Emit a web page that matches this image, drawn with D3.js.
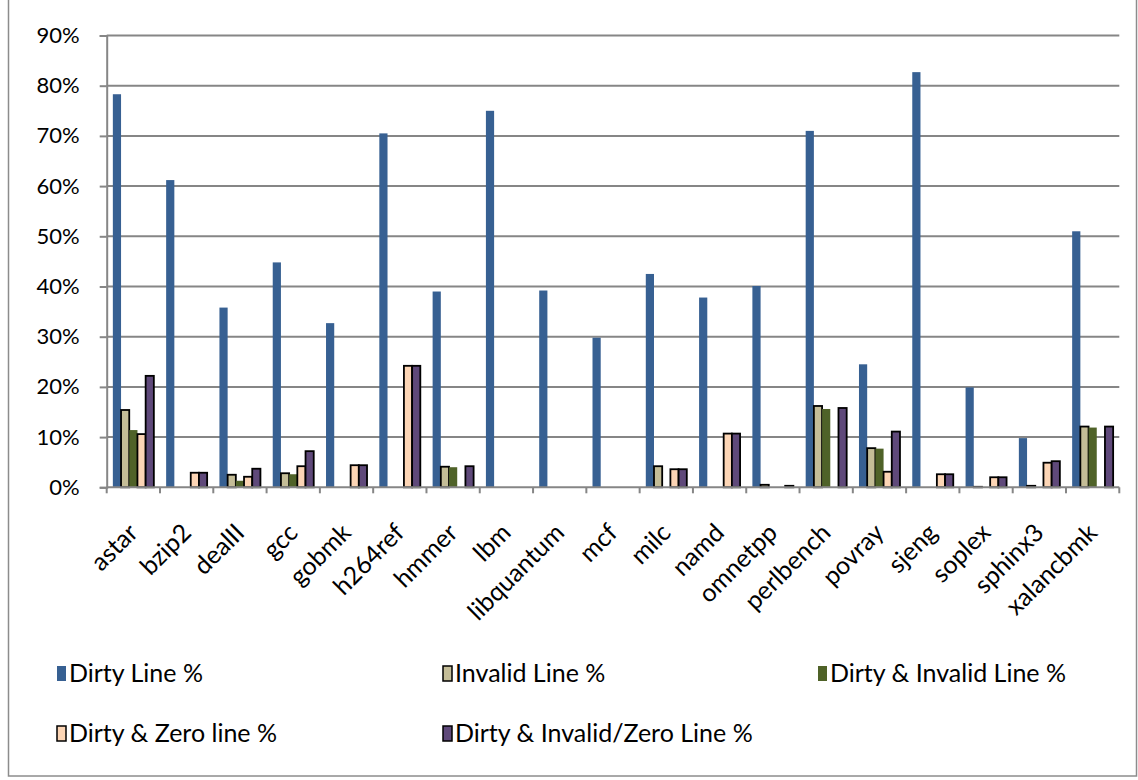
<!DOCTYPE html>
<html>
<head>
<meta charset="utf-8">
<script src="https://cdn.jsdelivr.net/npm/d3@7"></script>
<style>
  html, body { margin: 0; padding: 0; background: #fff; }
  svg { display: block; font-family: Lato, "Open Sans", sans-serif; }
</style>
</head>
<body>
<svg id="chart" width="1138" height="780"></svg>
<script>
// SPEC benchmarks on the x axis
const categories = ["astar", "bzip2", "dealII", "gcc", "gobmk", "h264ref", "hmmer", "lbm",
  "libquantum", "mcf", "milc", "namd", "omnetpp", "perlbench", "povray", "sjeng",
  "soplex", "sphinx3", "xalancbmk"];

// Percentages per benchmark, one array per series
const dirtyLine        = [78.3, 61.2, 35.8, 44.8, 32.7, 70.5, 39.0, 75.0, 39.2, 29.8, 42.5, 37.8, 40.1, 71.0, 24.5, 82.7, 19.9, 9.8, 51.0];
const invalidLine      = [15.4, 0, 2.5, 2.8, 0, 0, 4.1, 0, 0, 0, 4.2, 0, 0.5, 16.2, 7.8, 0, 0.1, 0.3, 12.1];
const dirtyInvalidLine = [11.4, 0, 1.3, 2.6, 0, 0, 4.0, 0, 0, 0, 0, 0, 0, 15.6, 7.7, 0, 0, 0, 11.9];
const dirtyZeroLine    = [10.6, 2.9, 2.1, 4.2, 4.4, 24.2, 0, 0, 0, 0, 3.6, 10.7, 0, 0, 3.1, 2.6, 2.0, 4.9, 0];
const dirtyInvZeroLine = [22.2, 2.9, 3.7, 7.2, 4.4, 24.2, 4.2, 0, 0, 0, 3.6, 10.7, 0.3, 15.8, 11.1, 2.6, 2.0, 5.2, 12.1];

const seriesNames = ["Dirty Line %", "Invalid Line %", "Dirty & Invalid Line %", "Dirty & Zero line %", "Dirty & Invalid/Zero Line %"];
const yTicks = [0, 10, 20, 30, 40, 50, 60, 70, 80, 90];

const series = [
  { name: seriesNames[0], values: dirtyLine,        fill: "#376092", stroke: null },
  { name: seriesNames[1], values: invalidLine,      fill: "#C4BD97", stroke: "#000" },
  { name: seriesNames[2], values: dirtyInvalidLine, fill: "#4F6228", stroke: null },
  { name: seriesNames[3], values: dirtyZeroLine,    fill: "#FCD5B5", stroke: "#000" },
  { name: seriesNames[4], values: dirtyInvZeroLine, fill: "#5F497A", stroke: "#000" }
];

const svg = d3.select("#chart");
const gridColor = "#868686";
const plot = { left: 106.7, right: 1119.3, top: 35.5, bottom: 487.3 };

// outer chart frame
svg.append("rect")
  .attr("x", 8.5).attr("y", -1).attr("width", 1128).attr("height", 777)
  .attr("fill", "none").attr("stroke", "#8c8c8c").attr("stroke-width", 1.5);

const x0 = d3.scaleBand().domain(categories).range([plot.left, plot.right]).paddingInner(0).paddingOuter(0);
const x1 = d3.scaleBand().domain(d3.range(series.length)).range([0, x0.bandwidth()]).paddingInner(0).paddingOuter(0.75);
const y = d3.scaleLinear().domain([0, 90]).range([plot.bottom, plot.top]);

// horizontal gridlines
svg.append("g").selectAll("line").data(yTicks.filter(d => d > 0)).join("line")
  .attr("x1", plot.left).attr("x2", plot.right)
  .attr("y1", d => y(d)).attr("y2", d => y(d))
  .attr("stroke", gridColor).attr("stroke-width", 2);

// bars
const groups = svg.append("g").selectAll("g").data(series).join("g");
groups.each(function (s, si) {
  d3.select(this).selectAll("rect")
    .data(s.values.map((v, i) => ({ v, c: categories[i] })).filter(d => d.v > 0))
    .join("rect")
    .attr("x", d => x0(d.c) + x1(si))
    .attr("y", d => y(d.v))
    .attr("width", x1.bandwidth())
    .attr("height", d => y(0) - y(d.v))
    .attr("fill", s.fill)
    .attr("stroke", s.stroke || "none")
    .attr("stroke-width", s.stroke ? 1.8 : 0);
});

// y axis
const yAxis = d3.axisLeft(y).tickValues(yTicks).tickFormat(d => d + "%").tickSize(7).tickPadding(20);
const gy = svg.append("g").attr("transform", `translate(${plot.left},0)`).call(yAxis);
gy.select(".domain").attr("stroke", gridColor).attr("stroke-width", 2);
gy.selectAll(".tick line").attr("stroke", gridColor).attr("stroke-width", 2);
gy.selectAll(".tick text").attr("font-size", 22).attr("fill", "#000")
  .attr("font-family", "Lato, sans-serif");

// x axis with ticks at category boundaries
const xAxisG = svg.append("g");
xAxisG.append("line")
  .attr("x1", plot.left).attr("x2", plot.right)
  .attr("y1", plot.bottom).attr("y2", plot.bottom)
  .attr("stroke", gridColor).attr("stroke-width", 2);
xAxisG.selectAll("line.tk").data(categories.concat(["end"])).join("line").attr("class", "tk")
  .attr("x1", (d, i) => plot.left + i * x0.step()).attr("x2", (d, i) => plot.left + i * x0.step())
  .attr("y1", plot.bottom).attr("y2", plot.bottom + 6)
  .attr("stroke", gridColor).attr("stroke-width", 2);
xAxisG.selectAll("text").data(categories).join("text")
  .attr("transform", d => `translate(${x0(d) + x0.bandwidth() / 2 + 6},${plot.bottom + 47}) rotate(-45)`)
  .attr("text-anchor", "end")
  .attr("font-size", 25)
  .attr("fill", "#000")
  .text(d => d);

// legend
const legendPos = [
  { x: 57, y: 673 }, { x: 443, y: 673 }, { x: 818, y: 673 },
  { x: 57, y: 733 }, { x: 443, y: 733 }
];
const lg = svg.append("g").selectAll("g").data(series).join("g")
  .attr("transform", (d, i) => `translate(${legendPos[i].x},${legendPos[i].y})`);
lg.append("rect")
  .attr("x", 0).attr("y", -7).attr("width", 9).attr("height", 15)
  .attr("fill", d => d.fill)
  .attr("stroke", d => d.stroke || "none")
  .attr("stroke-width", d => d.stroke ? 1.5 : 0);
lg.append("text")
  .attr("x", 12).attr("y", 0).attr("dy", "0.35em")
  .attr("font-size", 25).attr("fill", "#000")
  .text(d => d.name);
</script>
</body>
</html>
